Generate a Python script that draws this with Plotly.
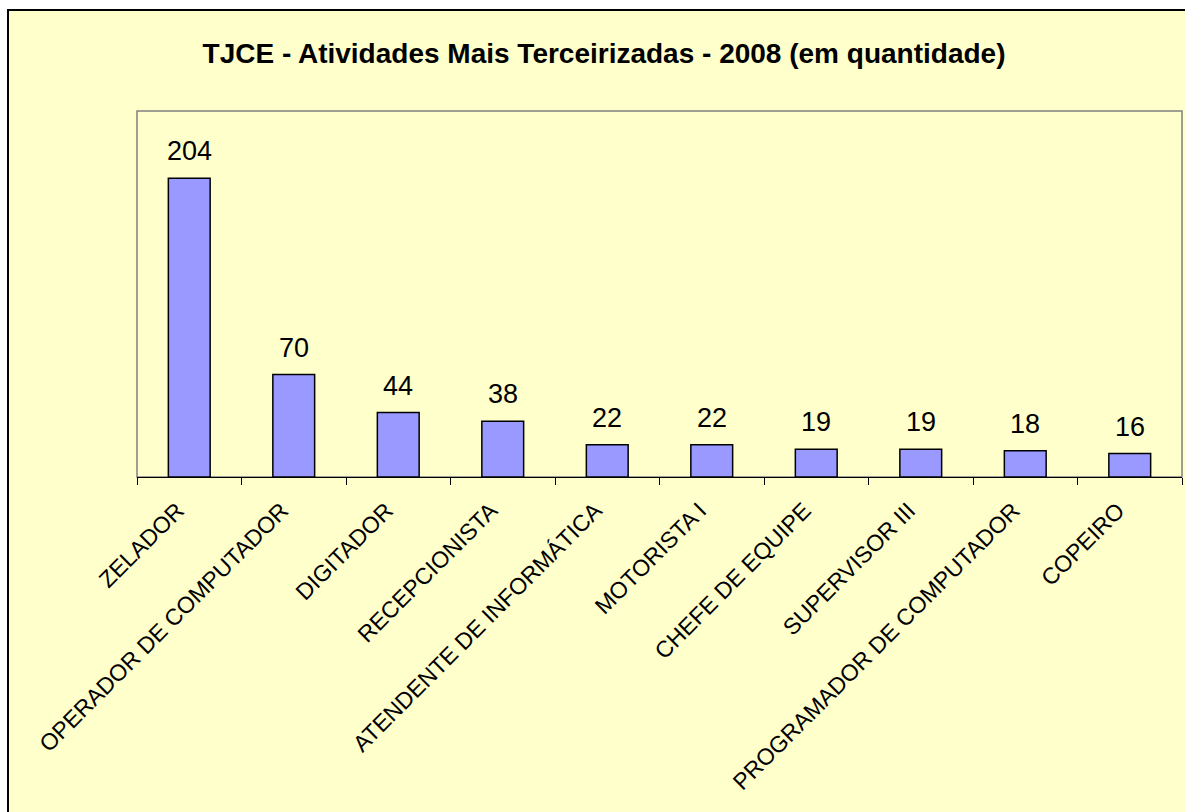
import plotly.graph_objects as go

categories = ["ZELADOR", "OPERADOR DE COMPUTADOR", "DIGITADOR", "RECEPCIONISTA",
              "ATENDENTE DE INFORMÁTICA", "MOTORISTA I", "CHEFE DE EQUIPE",
              "SUPERVISOR III", "PROGRAMADOR DE COMPUTADOR", "COPEIRO"]
values = [204, 70, 44, 38, 22, 22, 19, 19, 18, 16]
title_text = "TJCE - Atividades Mais Terceirizadas - 2008 (em quantidade)"

W, H = 1185, 812
L, R, T, B = 137, 3, 111, 335
pw = W - L - R
ph = H - T - B

def px_x(x):
    return (x - L) / pw

def px_y(y):
    return (H - B - y) / ph

YELLOW = "#FFFFCC"
FONT = "Arial, Liberation Sans"

fig = go.Figure()
fig.add_trace(go.Bar(
    x=categories, y=values,
    marker=dict(color="#9999FF", line=dict(color="black", width=1.5)),
))

for c, v in zip(categories, values):
    fig.add_annotation(x=c, y=v, text=str(v), showarrow=False, yanchor="bottom",
                       yshift=10, font=dict(family=FONT, size=27, color="black"))

fig.update_layout(
    width=W, height=H,
    margin=dict(l=L, r=R, t=T, b=B),
    paper_bgcolor="white",
    plot_bgcolor=YELLOW,
    bargap=0.6,
    showlegend=False,
    font=dict(family=FONT, color="black"),
    title=dict(text="<b>" + title_text + "</b>", x=px_x(604), xref="paper", xanchor="center",
               y=1 - 53 / H, yref="container", yanchor="middle",
               font=dict(family=FONT, size=28, color="black")),
    xaxis=dict(
        type="category", tickson="boundaries", ticks="outside", ticklen=7,
        tickcolor="black", tickwidth=1, showline=True, linecolor="black", linewidth=1,
        tickangle=-45, tickfont=dict(family=FONT, size=23, color="black"),
        ticklabelstandoff=10, ticklabelshift=-12,
        showgrid=False, zeroline=False,
    ),
    yaxis=dict(range=[0, 250], visible=False, showgrid=False, zeroline=False),
    shapes=[
        dict(type="rect", xref="paper", yref="paper", layer="below",
             x0=px_x(8), x1=px_x(W + 20), y0=px_y(H + 20), y1=px_y(10),
             fillcolor=YELLOW, line=dict(color="black", width=2)),
        dict(type="rect", xref="paper", yref="paper", layer="below",
             x0=0, x1=1, y0=0, y1=1,
             fillcolor=YELLOW, line=dict(color="#808080", width=1.5)),
    ],
)

fig.write_html("out.html", config={"displayModeBar": False},
               post_script="document.body.style.margin='0';")
